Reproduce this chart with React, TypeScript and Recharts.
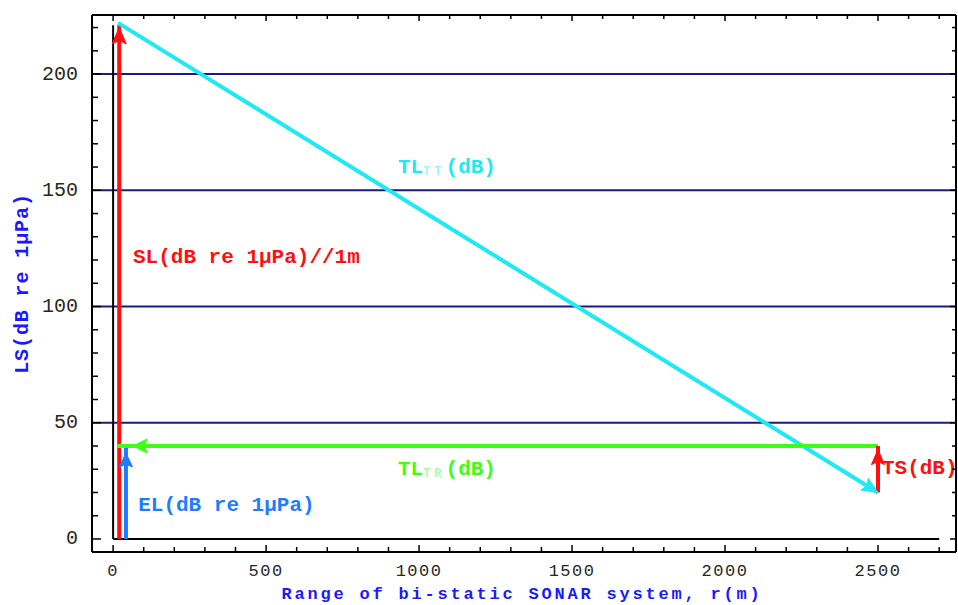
import { ComposedChart, Line, XAxis, YAxis, CartesianGrid, ReferenceLine, ReferenceDot } from "recharts"

// axis ranges and ticks (r in metres, level in dB)
const xDomain = [-69, 2755]
const yDomain = [-5.6, 225.4]
const xTicks = [0, 100, 200, 300, 400, 500, 600, 700, 800, 900, 1000, 1100, 1200, 1300, 1400, 1500, 1600, 1700, 1800, 1900, 2000, 2100, 2200, 2300, 2400, 2500, 2600, 2700]
const yTicks = [0, 10, 20, 30, 40, 50, 60, 70, 80, 90, 100, 110, 120, 130, 140, 150, 160, 170, 180, 190, 200, 210, 220]
const gridLevels = [50, 100, 150, 200]

// black reference axes through the origin
const rAxis = [{ r: 0, v: 0 }, { r: 2700, v: 0 }]
const levelAxis = [{ r: 0, v: 0 }, { r: 0, v: 221 }]

// arrow shafts
const slShaft = [{ r: 20, v: 0 }, { r: 20, v: 221 }]
const elShaft = [{ r: 42, v: 0 }, { r: 42, v: 40 }]
const trShaft = [{ r: 2500, v: 40 }, { r: 14, v: 40 }]
const ttShaft = [{ r: 16, v: 222 }, { r: 2500, v: 20 }]
const tsShaft = [{ r: 2500, v: 20 }, { r: 2500, v: 40 }]

// arrow heads, base -> tip
const slHead = [{ r: 20, v: 213 }, { r: 20, v: 220 }]
const elHead = [{ r: 42, v: 31 }, { r: 42, v: 37 }]
const trHead = [{ r: 111, v: 40 }, { r: 65, v: 40 }]
const tsHead = [{ r: 2500, v: 32 }, { r: 2500, v: 38.5 }]
const ttHead = [{ r: 2456, v: 23.6 }, { r: 2500, v: 20 }]

const RED = "#ff1010"
const BLUE = "#1f7cff"
const GREEN = "#3cff14"
const CYAN = "#1fe9f2"
const NAVY = "#1b1b86"
const TITLE = "#1a1aff"
const INK = "#262626"
const FONT = "'Liberation Mono', 'DejaVu Sans Mono', monospace"

const seg = (pts: { r: number; v: number }[]) => pts.map((p) => ({ x: p.r, y: p.v }))

const head = (w: number) => (p: any) => {
  const { x1, y1, x2, y2, stroke } = p
  const dx = x2 - x1
  const dy = y2 - y1
  const len = Math.hypot(dx, dy) || 1
  const nx = -dy / len
  const ny = dx / len
  const mx = x1 + dx * 0.2
  const my = y1 + dy * 0.2
  return (
    <polygon
      points={`${x2},${y2} ${x1 + nx * w},${y1 + ny * w} ${mx},${my} ${x1 - nx * w},${y1 - ny * w}`}
      fill={stroke}
      stroke={stroke}
      strokeWidth={1}
    />
  )
}

const LeftTick = (p: any) => {
  const major = p.payload.value % 50 === 0
  return (
    <g>
      <line x1={p.x} x2={p.x + (major ? 9 : 6)} y1={p.y} y2={p.y} stroke="#000" strokeWidth={1.5} />
      {major && (
        <text x={p.x - 14} y={p.y} textAnchor="end" dominantBaseline="central" fontFamily={FONT} fontSize={20} fill={INK}>
          {p.payload.value}
        </text>
      )}
    </g>
  )
}

const RightTick = (p: any) => {
  const major = p.payload.value % 50 === 0
  return <line x1={p.x} x2={p.x - (major ? 6 : 4)} y1={p.y} y2={p.y} stroke="#000" strokeWidth={1.5} />
}

const BottomTick = (p: any) => {
  const major = p.payload.value % 500 === 0
  return (
    <g>
      <line x1={p.x} x2={p.x} y1={p.y} y2={p.y - (major ? 7 : 5)} stroke="#000" strokeWidth={1.5} />
      {major && (
        <text
          x={p.x}
          y={p.y + 19}
          textAnchor="middle"
          dominantBaseline="central"
          fontFamily={FONT}
          fontSize={17}
          letterSpacing={1.5}
          fill={INK}
        >
          {p.payload.value}
        </text>
      )}
    </g>
  )
}

const TopTick = (p: any) => {
  const major = p.payload.value % 500 === 0
  return <line x1={p.x} x2={p.x} y1={p.y} y2={p.y + (major ? 6 : 4)} stroke="#000" strokeWidth={1.5} />
}

const note = (color: string, main: string, sub?: string, rest?: string) => (p: any) => (
  <text x={p.cx} y={p.cy} dominantBaseline="central" fontFamily={FONT} fontSize={21} fontWeight="bold" fill={color}>
    {main}
    {sub && (
      <tspan fontSize={12} letterSpacing={4} dy={5} fillOpacity={0.45}>
        {sub}
      </tspan>
    )}
    {rest && <tspan dy={sub ? -5 : 0}>{rest}</tspan>}
  </text>
)

export default function App() {
  return (
    <div style={{ position: "absolute", left: 0, top: 0, width: 958, height: 605, background: "#fff" }}>
      <ComposedChart width={958} height={605} margin={{ top: 14, right: 0, bottom: 0, left: 0 }}>
        <CartesianGrid horizontal vertical={false} horizontalValues={gridLevels} stroke={NAVY} strokeWidth={2} />
        <XAxis
          type="number"
          dataKey="r"
          domain={xDomain}
          ticks={xTicks}
          interval={0}
          allowDataOverflow
          height={53}
          tickLine={false}
          tickSize={0}
          tickMargin={0}
          tick={BottomTick}
          axisLine={{ stroke: "#000", strokeWidth: 2 }}
          label={{
            content: (p: any) => (
              <text
                x={p.viewBox.x + p.viewBox.width / 2 - 2}
                y={p.viewBox.y + 42}
                textAnchor="middle"
                dominantBaseline="central"
                fontFamily={FONT}
                fontSize={17}
                fontWeight="bold"
                letterSpacing={2.8}
                fill={TITLE}
              >
                Range of bi-static SONAR system, r(m)
              </text>
            ),
          }}
        />
        <XAxis
          xAxisId="top"
          orientation="top"
          type="number"
          dataKey="r"
          domain={xDomain}
          ticks={xTicks}
          interval={0}
          allowDataOverflow
          height={1}
          tickLine={false}
          tickSize={0}
          tickMargin={0}
          tick={TopTick}
          axisLine={{ stroke: "#000", strokeWidth: 2 }}
        />
        <YAxis
          type="number"
          domain={yDomain}
          ticks={yTicks}
          interval={0}
          allowDataOverflow
          width={92}
          tickLine={false}
          tickSize={0}
          tickMargin={0}
          tick={LeftTick}
          axisLine={{ stroke: "#000", strokeWidth: 2 }}
          label={{
            content: (p: any) => {
              const cx = p.viewBox.x + 22
              const cy = p.viewBox.y + p.viewBox.height / 2
              return (
                <text
                  x={cx}
                  y={cy}
                  transform={`rotate(-90 ${cx} ${cy})`}
                  textAnchor="middle"
                  dominantBaseline="central"
                  fontFamily={FONT}
                  fontSize={20}
                  fontWeight="bold"
                  letterSpacing={0.9}
                  fill={TITLE}
                >
                  LS(dB re 1μPa)
                </text>
              )
            },
          }}
        />
        <YAxis
          yAxisId="right"
          orientation="right"
          type="number"
          domain={yDomain}
          ticks={yTicks}
          interval={0}
          allowDataOverflow
          width={2}
          tickLine={false}
          tickSize={0}
          tickMargin={0}
          tick={RightTick}
          axisLine={{ stroke: "#000", strokeWidth: 2 }}
        />

        <Line data={rAxis} dataKey="v" stroke="#000" strokeWidth={2} dot={false} isAnimationActive={false} />
        <Line data={levelAxis} dataKey="v" stroke="#000" strokeWidth={2} dot={false} isAnimationActive={false} />
        <Line data={slShaft} dataKey="v" stroke={RED} strokeWidth={4} dot={false} isAnimationActive={false} />
        <Line data={elShaft} dataKey="v" stroke={BLUE} strokeWidth={4} dot={false} isAnimationActive={false} />
        <Line data={ttShaft} dataKey="v" stroke={CYAN} strokeWidth={4} dot={false} isAnimationActive={false} />
        <Line data={trShaft} dataKey="v" stroke={GREEN} strokeWidth={4} dot={false} isAnimationActive={false} />
        <Line data={tsShaft} dataKey="v" stroke={RED} strokeWidth={4} dot={false} isAnimationActive={false} />

        <ReferenceLine segment={seg(slHead)} stroke={RED} shape={head(7)} />
        <ReferenceLine segment={seg(elHead)} stroke={BLUE} shape={head(6.5)} />
        <ReferenceLine segment={seg(trHead)} stroke={GREEN} shape={head(7)} />
        <ReferenceLine segment={seg(tsHead)} stroke={RED} shape={head(6.5)} />
        <ReferenceLine segment={seg(ttHead)} stroke={CYAN} shape={head(7)} />

        <ReferenceDot x={931} y={160} r={0} shape={note(CYAN, "TL", "TT", "(dB)")} />
        <ReferenceDot x={931} y={30} r={0} shape={note(GREEN, "TL", "TR", "(dB)")} />
        <ReferenceDot x={65} y={121} r={0} shape={note(RED, "SL(dB re 1μPa)//1m")} />
        <ReferenceDot x={82} y={14.5} r={0} shape={note(BLUE, "EL(dB re 1μPa)")} />
        <ReferenceDot x={2513} y={30.3} r={0} shape={note(RED, "TS(dB)")} />
      </ComposedChart>
    </div>
  )
}
